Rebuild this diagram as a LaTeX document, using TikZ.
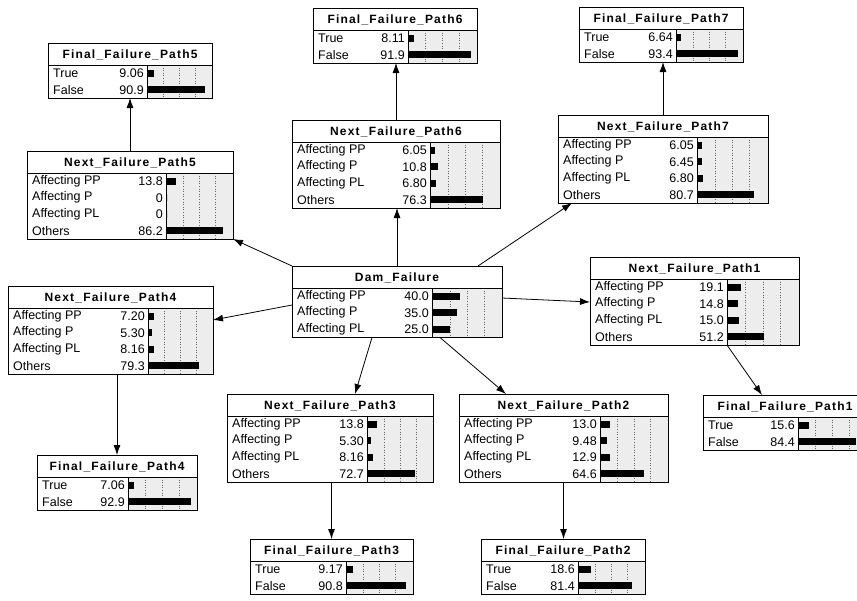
\documentclass[tikz,border=0pt]{standalone}
\usepackage{fontspec}
\setmainfont{Liberation Sans}
\usetikzlibrary{arrows.meta,calc}
\tikzset{
  bnframe/.style={draw=black, line width=0.9pt, rectangle, inner sep=0pt, outer sep=0pt},
  bnline/.style={draw=black, line width=0.8pt},
  bnbg/.style={fill=black!7},
  bndot/.style={draw=black!60, line width=0.6pt, dotted},
  bntitle/.style={inner sep=0pt, font=\fontsize{12}{14}\selectfont\bfseries\addfontfeatures{LetterSpace=10}},
  bnlabel/.style={inner sep=0pt, anchor=west, font=\fontsize{12.5}{14}\selectfont},
  bnval/.style={inner sep=0pt, anchor=east, font=\fontsize{12.5}{14}\selectfont},
  arr/.style={draw=black, line width=0.8pt, -{Latex[length=10pt,width=7pt]}},
}
% #1 name #2 x #3 top #4 width #5 split #6 title #7 rows #8 list
\newcommand{\bnbox}[8]{%
  \pgfmathsetmacro{\bnh}{22+16.5*#7}%
  \fill[bnbg] (#5,{#3+22}) rectangle ({#2+#4},{#3+\bnh});
  \foreach \f in {0.25,0.5,0.75}{%
    \draw[bndot] ({#5+1+\f*(#2+#4-#5-2)},{#3+22}) -- ({#5+1+\f*(#2+#4-#5-2)},{#3+\bnh});
  }
  \node[bnframe, minimum width=#4pt, minimum height=\bnh pt, anchor=north west] (#1) at (#2,#3) {};
  \node[bntitle] (#1-t) at ({#2+#4/2},{#3+11.5}) {#6};
  \draw[bnline] (#2,{#3+22}) -- ({#2+#4},{#3+22});
  \draw[bnline] (#5,{#3+22}) -- (#5,{#3+\bnh});
  \foreach \lab/\val [count=\i] in {#8}{%
    \pgfmathsetmacro{\yc}{#3+22+16.5*(\i-0.5)}%
    \node[bnlabel] (#1-l\i) at ({#2+5},\yc) {\lab};
    \node[bnval] (#1-v\i) at ({#5-3},\yc) {\val};
    \fill ({#5+1},{\yc-3.5}) rectangle ({#5+1+\val*(#2+#4-#5-2)/100},{\yc+3.5});
  }
}
\begin{document}
\begin{tikzpicture}[x=1pt,y=-1pt]
\useasboundingbox (0,0) rectangle (857,600);
\clip (0,0) rectangle (857,600);
\fill[white] (0,0) rectangle (857,600);

\bnbox{ff5}{48}{43}{164}{147}{Final\_Failure\_Path5}{2}{True/9.06, False/90.9}
\bnbox{nf5}{27}{151}{206}{166}{Next\_Failure\_Path5}{4}{Affecting PP/13.8, Affecting P/0, Affecting PL/0, Others/86.2}
\bnbox{ff6}{313}{8}{164}{408}{Final\_Failure\_Path6}{2}{True/8.11, False/91.9}
\bnbox{nf6}{292}{120}{208}{430}{Next\_Failure\_Path6}{4}{Affecting PP/6.05, Affecting P/10.8, Affecting PL/6.80, Others/76.3}
\bnbox{ff7}{579}{7}{164}{676}{Final\_Failure\_Path7}{2}{True/6.64, False/93.4}
\bnbox{nf7}{558}{115}{210}{697}{Next\_Failure\_Path7}{4}{Affecting PP/6.05, Affecting P/6.45, Affecting PL/6.80, Others/80.7}
\bnbox{dam}{292}{266}{210}{432}{Dam\_Failure}{3}{Affecting PP/40.0, Affecting P/35.0, Affecting PL/25.0}
\bnbox{nf4}{8}{286}{205}{148}{Next\_Failure\_Path4}{4}{Affecting PP/7.20, Affecting P/5.30, Affecting PL/8.16, Others/79.3}
\bnbox{ff4}{37}{455}{160}{128}{Final\_Failure\_Path4}{2}{True/7.06, False/92.9}
\bnbox{nf1}{590}{257}{209}{727}{Next\_Failure\_Path1}{4}{Affecting PP/19.1, Affecting P/14.8, Affecting PL/15.0, Others/51.2}
\bnbox{ff1}{703}{395}{164}{798}{Final\_Failure\_Path1}{2}{True/15.6, False/84.4}
\bnbox{nf3}{227}{394}{206}{367}{Next\_Failure\_Path3}{4}{Affecting PP/13.8, Affecting P/5.30, Affecting PL/8.16, Others/72.7}
\bnbox{nf2}{459}{394}{209}{600}{Next\_Failure\_Path2}{4}{Affecting PP/13.0, Affecting P/9.48, Affecting PL/12.9, Others/64.6}
\bnbox{ff3}{250}{539}{163}{346}{Final\_Failure\_Path3}{2}{True/9.17, False/90.8}
\bnbox{ff2}{481}{539}{164}{578}{Final\_Failure\_Path2}{2}{True/18.6, False/81.4}

\draw[arr] (dam.north west) -- (nf5.south east);
\draw[arr] (dam.north) -- (dam.north |- nf6.south);
\draw[arr] ($(dam.north east)+(-24,0)$) -- ($(nf7.south west)+(14,0)$);
\draw[arr] ($(dam.north west)+(0,39)$) -- ($(nf4.north east)+(0,34)$);
\draw[arr] ($(dam.north east)+(0,32)$) -- ($(nf1.north west)+(0,45)$);
\draw[arr] ($(dam.south west)+(80,0)$) -- ($(nf3.north west)+(128,0)$);
\draw[arr] ($(dam.south west)+(148,0)$) -- ($(nf2.north west)+(47,0)$);
\draw[arr] (nf5.north) -- (nf5.north |- ff5.south);
\draw[arr] (nf6.north) -- (nf6.north |- ff6.south);
\draw[arr] (nf7.north) -- (nf7.north |- ff7.south);
\draw[arr] (ff4.north |- nf4.south) -- (ff4.north);
\draw[arr] ($(nf1.south west)+(137,0)$) -- ($(ff1.north west)+(59,0)$);
\draw[arr] (ff3.north |- nf3.south) -- (ff3.north);
\draw[arr] (nf2.south) -- (nf2.south |- ff2.north);
\end{tikzpicture}
\end{document}
